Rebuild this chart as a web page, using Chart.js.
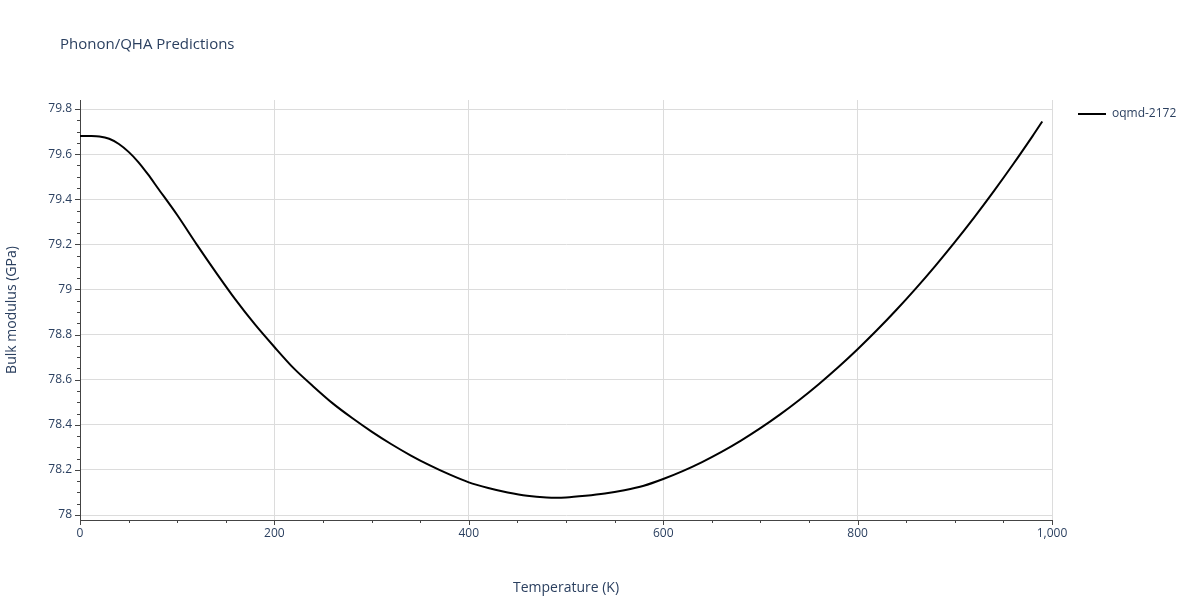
<!DOCTYPE html><html><head><script src="https://cdn.jsdelivr.net/npm/chart.js@4"></script>
<style>body{margin:0;background:#fff}#w{width:1200px;height:600px}</style></head><body><div id="w"><canvas id="c"></canvas></div>
<script>
const temps=[0,10,20,30,40,50,60,70,80,100,120,140,160,180,200,220,240,260,280,300,320,340,360,380,400,420,440,460,480,500,520,540,560,580,600,620,640,660,680,700,720,740,760,780,800,820,840,860,880,900,920,940,960,980,990];
const bulk=[79.68,79.68,79.678,79.668,79.645,79.61,79.565,79.51,79.45,79.33,79.20,79.075,78.955,78.845,78.745,78.65,78.57,78.495,78.43,78.37,78.315,78.265,78.22,78.18,78.145,78.12,78.1,78.085,78.078,78.078,78.085,78.095,78.11,78.13,78.16,78.195,78.235,78.28,78.33,78.385,78.445,78.51,78.58,78.655,78.735,78.82,78.91,79.005,79.105,79.21,79.32,79.435,79.555,79.68,79.745];
const seriesName='oqmd-2172';
const font={family:'"Open Sans", sans-serif',size:12};
const txt='#2a3f5f';
const deco={id:'deco',afterDraw(c){const x=c.ctx;x.save();x.fillStyle=txt;x.font='15px "Open Sans", sans-serif';x.textBaseline='middle';x.fillText('Phonon/QHA Predictions',60,45);
x.font='12px "Open Sans", sans-serif';x.strokeStyle='#000';x.lineWidth=2;x.beginPath();x.moveTo(1078,114);x.lineTo(1106,114);x.stroke();x.fillText(seriesName,1112,114);
const ya=c.scales.y;x.strokeStyle='#444';x.lineWidth=1;for(let v=78;v<=79.81;v+=0.05){const yy=Math.round(ya.getPixelForValue(v))+0.5;const maj=Math.abs(v*5-Math.round(v*5))<1e-6;x.beginPath();x.moveTo(80,yy);x.lineTo(maj?75:77,yy);x.stroke();}
const xa=c.scales.x;for(let v=0;v<=1000;v+=50){const xx=Math.round(xa.getPixelForValue(v))+0.5;x.beginPath();x.moveTo(xx,520);x.lineTo(xx,v%200==0?525:523);x.stroke();}
x.restore();}};
new Chart(document.getElementById('c'),{type:'line',data:{datasets:[{data:temps.map((t,i)=>({x:t,y:bulk[i]})),borderColor:'#000',borderWidth:2,pointRadius:0,tension:0.3}]},
options:{responsive:true,maintainAspectRatio:false,animation:false,layout:{padding:{top:100,right:148,left:0,bottom:0}},
plugins:{legend:{display:false},tooltip:{enabled:false}},
scales:{x:{type:'linear',min:0,max:1000,afterFit:s=>{s.height=80},ticks:{stepSize:200,color:txt,font,padding:6},grid:{color:'#dcdcdc',drawTicks:false},border:{color:'#444'},title:{display:true,text:'Temperature (K)',color:txt,font:{family:font.family,size:14},padding:{top:12}}},
y:{min:77.978,max:79.84,afterFit:s=>{s.width=80},afterBuildTicks:s=>{const t=[];for(let v=78;v<=79.81;v+=0.2)t.push({value:Math.round(v*10)/10});s.ticks=t;},ticks:{color:txt,font,padding:8,callback:v=>String(Math.round(v*10)/10)},grid:{color:'#dcdcdc',drawTicks:false},border:{color:'#444'},title:{display:true,text:'Bulk modulus (GPa)',color:txt,font:{family:font.family,size:14}}}}},plugins:[deco]});
</script></body></html>
